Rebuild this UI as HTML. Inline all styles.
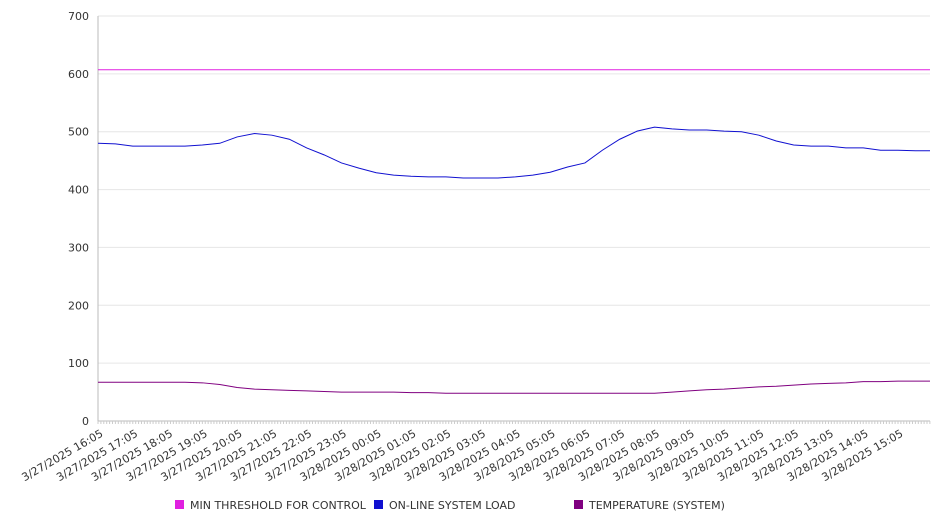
<!DOCTYPE html>
<html><head><meta charset="utf-8"><style>
body{margin:0;background:#fff;font-family:"DejaVu Sans","Liberation Sans",sans-serif;}
svg text{font-family:"DejaVu Sans","Liberation Sans",sans-serif;font-size:11px;fill:#333;}
</style></head><body>
<svg id="c" width="946" height="526" xmlns="http://www.w3.org/2000/svg"></svg>
<script>
const yTicks=[0,100,200,300,400,500,600,700];
const xLabels=["3/27/2025 16:05","3/27/2025 17:05","3/27/2025 18:05","3/27/2025 19:05","3/27/2025 20:05","3/27/2025 21:05","3/27/2025 22:05","3/27/2025 23:05","3/28/2025 00:05","3/28/2025 01:05","3/28/2025 02:05","3/28/2025 03:05","3/28/2025 04:05","3/28/2025 05:05","3/28/2025 06:05","3/28/2025 07:05","3/28/2025 08:05","3/28/2025 09:05","3/28/2025 10:05","3/28/2025 11:05","3/28/2025 12:05","3/28/2025 13:05","3/28/2025 14:05","3/28/2025 15:05"];
const hours=[0,0.5,1,1.5,2,2.5,3,3.5,4,4.5,5,5.5,6,6.5,7,7.5,8,8.5,9,9.5,10,10.5,11,11.5,12,12.5,13,13.5,14,14.5,15,15.5,16,16.5,17,17.5,18,18.5,19,19.5,20,20.5,21,21.5,22,22.5,23,23.5,23.92];
const loadValues=[480,479,475,475,475,475,477,480,491,497,494,487,472,460,446,437,429,425,423,422,422,420,420,420,422,425,430,439,446,468,487,501,508,505,503,503,501,500,494,484,477,475,475,472,472,468,468,467,467];
const tempValues=[67,67,67,67,67,67,66,63,58,55,54,53,52,51,50,50,50,50,49,49,48,48,48,48,48,48,48,48,48,48,48,48,48,50,52,54,55,57,59,60,62,64,65,66,68,68,69,69,69];
const thresholdValues=hours.map(()=>607);
const series=[
 {name:"MIN THRESHOLD FOR CONTROL",color:"#e020e0",vals:thresholdValues,lx:175},
 {name:"ON-LINE SYSTEM LOAD",color:"#1010d0",vals:loadValues,lx:374},
 {name:"TEMPERATURE (SYSTEM)",color:"#800080",vals:tempValues,lx:574}];
const L=98,R=930,T=16,B=421,YMAX=700,HSPAN=23.92;
const x=h=>L+(R-L)*h/HSPAN, y=v=>B-(B-T)*v/YMAX;
const svg=document.getElementById('c'),NS="http://www.w3.org/2000/svg";
function mk(t,a,p){const e=document.createElementNS(NS,t);for(const k in a)e.setAttribute(k,a[k]);(p||svg).appendChild(e);return e;}
yTicks.forEach(v=>{
 const g=mk('line',{x1:L,x2:R,y1:y(v),y2:y(v),stroke:v===0?'#bbb':'#e6e6e6'});
 
 const t=mk('text',{x:89,y:y(v)+4,'text-anchor':'end'});t.textContent=v;
 
});
const ax=mk('line',{x1:L,x2:L,y1:T,y2:B,stroke:'#bbb'});

for(let m=0;m<=287;m++){const xx=x(m/12);const tk=mk('line',{x1:xx,x2:xx,y1:B,y2:B+3,stroke:'#ccc'});
 }
xLabels.forEach((s,i)=>{const xx=x(i)+2,yy=B+8;
 const t=mk('text',{x:xx,y:yy,'text-anchor':'end',transform:`rotate(-30 ${xx} ${yy})`,dy:'0.7em'});t.textContent=s;
 });
series.forEach(s=>{
 const p=mk('polyline',{points:s.vals.map((v,i)=>x(hours[i])+','+y(v)).join(' '),fill:'none',stroke:s.color,'stroke-width':1});
 
 const r=mk('rect',{x:s.lx,y:500,width:9,height:9,fill:s.color});
 
 const t=mk('text',{x:s.lx+15,y:509});t.textContent=s.name;
 
});
</script>
</body></html>
